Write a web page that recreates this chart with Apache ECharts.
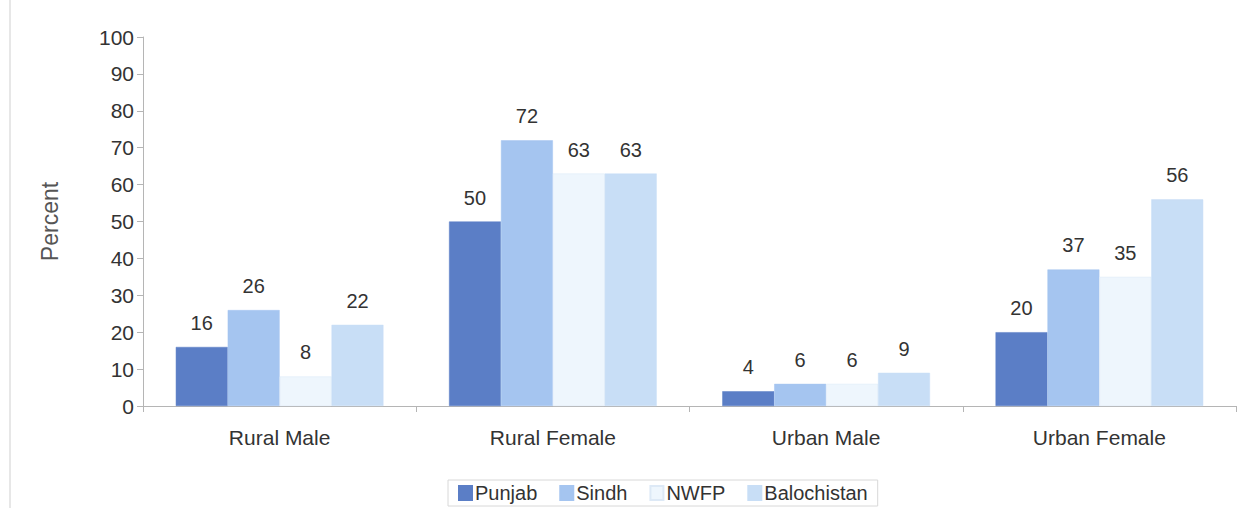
<!DOCTYPE html>
<html>
<head>
<meta charset="utf-8">
<script src="https://cdn.jsdelivr.net/npm/echarts@6/dist/echarts.min.js"></script>
<style>
  html, body { margin: 0; padding: 0; background: #fff; }
  #chart { width: 1251px; height: 508px; }
</style>
</head>
<body>
<div id="chart"></div>
<script>
const categories = ['Rural Male', 'Rural Female', 'Urban Male', 'Urban Female'];
const punjab = [16, 50, 4, 20];
const sindh = [26, 72, 6, 37];
const nwfp = [8, 63, 6, 35];
const balochistan = [22, 63, 9, 56];
const yTicks = [0, 10, 20, 30, 40, 50, 60, 70, 80, 90, 100];

const colors = ['#5b7ec6', '#a5c5f0', '#eef6fd', '#c8def6'];
const font = 'Liberation Sans, Arial, sans-serif';

function makeSeries(name, data, i){
  return {
    name: name,
    type: 'bar',
    data: data,
    barGap: '0%',
    barCategoryGap: '24%',
    itemStyle: {
      color: colors[i],
      borderColor: i === 2 ? '#dde9f6' : colors[i],
      borderWidth: 0.5
    },
    label: {
      show: true,
      position: 'top',
      distance: 14,
      color: '#333',
      fontSize: 20,
      fontFamily: font
    }
  };
}

let myChart = echarts.init(document.getElementById('chart'), null, { renderer: 'svg' });

let option = {
  animation: false,
  backgroundColor: '#fff',
  grid: { left: 143, right: 15, top: 37, bottom: 102 },
  graphic: [{
    type: 'line',
    shape: { x1: 10, y1: 0, x2: 10, y2: 508 },
    style: { stroke: '#cfcfcf', lineWidth: 1 }
  }],
  legend: {
    bottom: 2,
    left: 448,
    icon: 'rect',
    itemWidth: 13,
    itemHeight: 14,
    itemGap: 22,
    padding: [3, 10],
    borderColor: '#d8d8d8',
    borderWidth: 1,
    textStyle: { color: '#333', fontSize: 20, fontFamily: font, padding: [0, 0, 0, -2] },
    data: ['Punjab', 'Sindh', 'NWFP', 'Balochistan']
  },
  xAxis: {
    type: 'category',
    data: categories,
    axisLine: { lineStyle: { color: '#b5b5b5' } },
    axisTick: { show: true, length: 6, lineStyle: { color: '#b5b5b5' } },
    axisLabel: { color: '#333', fontSize: 21, fontFamily: font, margin: 21 }
  },
  yAxis: {
    type: 'value',
    min: yTicks[0],
    max: yTicks[yTicks.length - 1],
    interval: 10,
    name: 'Percent',
    nameLocation: 'center',
    nameGap: 82,
    nameRotate: 90,
    nameTextStyle: { color: '#555', fontSize: 23, fontFamily: font },
    axisLine: { show: true, lineStyle: { color: '#b5b5b5' } },
    axisTick: { show: true, length: 6, lineStyle: { color: '#b5b5b5' } },
    axisLabel: { color: '#333', fontSize: 21, fontFamily: font, margin: 9 },
    splitLine: { show: false }
  },
  series: [
    makeSeries('Punjab', punjab, 0),
    makeSeries('Sindh', sindh, 1),
    makeSeries('NWFP', nwfp, 2),
    makeSeries('Balochistan', balochistan, 3)
  ]
};

myChart.setOption(option);
</script>
</body>
</html>
